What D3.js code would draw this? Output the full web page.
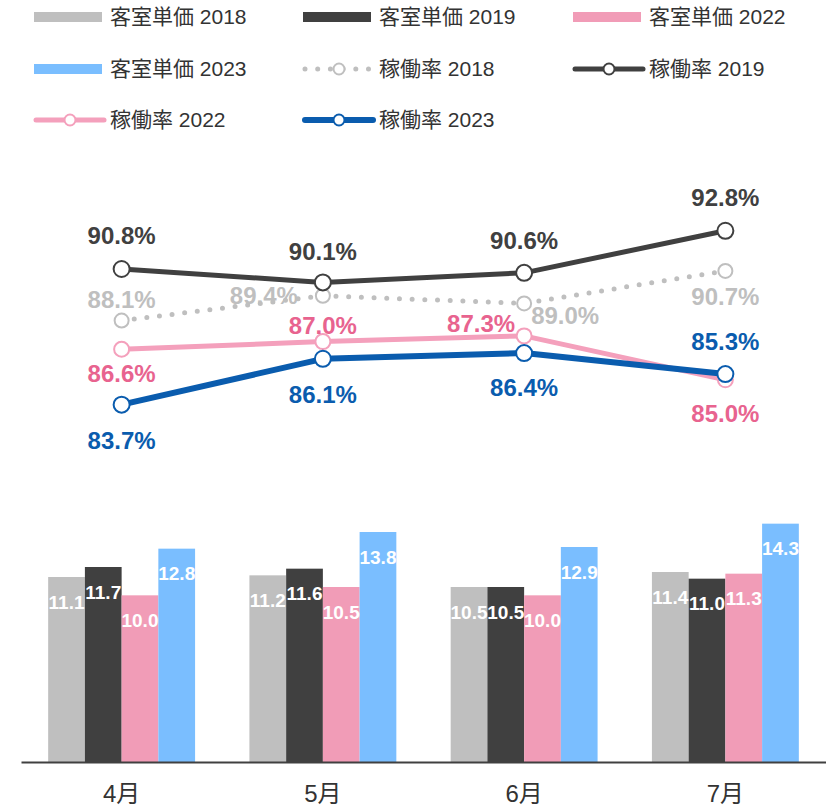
<!DOCTYPE html>
<html>
<head>
<meta charset="utf-8">
<script src="https://cdn.jsdelivr.net/npm/d3@7"></script>
<style>
  html, body { margin: 0; padding: 0; background: #fff; }
  svg { display: block; font-family: "Liberation Sans", Arial, "Noto Sans CJK JP", sans-serif; }
</style>
</head>
<body>
<svg id="chart" width="826" height="809"></svg>
<script>
// ---- data ----
const months = ["4月", "5月", "6月", "7月"];
const barSeriesNames = ["客室単価 2018", "客室単価 2019", "客室単価 2022", "客室単価 2023"];
const price2018 = [11.1, 11.2, 10.5, 11.4];
const price2019 = [11.7, 11.6, 10.5, 11.0];
const price2022 = [10.0, 10.5, 10.0, 11.3];
const price2023 = [12.8, 13.8, 12.9, 14.3];
const lineSeriesNames = ["稼働率 2018", "稼働率 2019", "稼働率 2022", "稼働率 2023"];
const occ2018 = [88.1, 89.4, 89.0, 90.7];
const occ2019 = [90.8, 90.1, 90.6, 92.8];
const occ2022 = [86.6, 87.0, 87.3, 85.0];
const occ2023 = [83.7, 86.1, 86.4, 85.3];

// ---- styles ----
const barColors = ["#BFBFBF", "#404040", "#F19CB7", "#7ABEFF"];
const lineStyles = [
  { stroke: "#BFBFBF", width: 5, dash: "0 12.7", r: 7, label: "#BFBFBF" },
  { stroke: "#404040", width: 5, dash: null, r: 8, label: "#404040" },
  { stroke: "#F4A0BC", width: 5, dash: null, r: 7.5, label: "#E8638F" },
  { stroke: "#0A5CAE", width: 6, dash: null, r: 8, label: "#0A5CAE" }
];
// label placement per line series: [dx, dy, anchor]
const labelLayout = [
  [[0, -21, "middle"], [-25, 0, "end"], [7, 12, "start"], [0, 26, "middle"]],
  [[0, -33, "middle"], [0, -31, "middle"], [0, -32, "middle"], [0, -33, "middle"]],
  [[0, 24, "middle"], [0, -16, "middle"], [-9, -12, "end"], [0, 34, "middle"]],
  [[0, 36, "middle"], [0, 36, "middle"], [0, 35, "middle"], [0, -33, "middle"]]
];

const barValues = [price2018, price2019, price2022, price2023];
const lineValues = [occ2018, occ2019, occ2022, occ2023];

const svg = d3.select("#chart");
const plotTop = 162, plotBottom = 762, plotLeft = 21, plotRight = 826;

const x = d3.scaleBand().domain(months).range([plotLeft, plotRight]).paddingInner(0.27).paddingOuter(0.135);
const xs = d3.scaleBand().domain(d3.range(4)).range([0, x.bandwidth()]);
const yBar = d3.scaleLinear().domain([0, 36]).range([plotBottom, plotTop]);
const yLine = d3.scaleLinear().domain([65, 96.4]).range([plotBottom, plotTop]);

// ---- bars ----
const barG = svg.append("g");
barValues.forEach((vals, si) => {
  const g = barG.append("g");
  g.selectAll("rect").data(vals).join("rect")
    .attr("x", (d, i) => x(months[i]) + xs(si))
    .attr("y", d => yBar(d))
    .attr("width", xs.bandwidth())
    .attr("height", d => yBar(0) - yBar(d))
    .attr("fill", barColors[si]);
});
barValues.forEach((vals, si) => {
  barG.append("g").selectAll("text").data(vals).join("text")
    .attr("x", (d, i) => x(months[i]) + xs(si) + xs.bandwidth() / 2)
    .attr("y", d => yBar(d) + 25)
    .attr("dy", "0.35em")
    .attr("text-anchor", "middle")
    .attr("font-size", 19)
    .attr("font-weight", "bold")
    .attr("fill", "#fff")
    .text(d => d.toFixed(1));
});

// ---- x axis ----
const xAxis = d3.axisBottom(x).tickSize(0).tickPadding(0);
const axG = svg.append("g").attr("transform", `translate(0,${plotBottom})`).call(xAxis);
axG.select(".domain").attr("stroke", "#404040").attr("stroke-width", 2);
axG.selectAll(".tick text")
  .attr("font-size", 24)
  .attr("fill", "#333")
  .attr("font-family", "\"Liberation Sans\", Arial, \"Noto Sans CJK JP\", sans-serif")
  .attr("y", 32)
  .attr("dy", "0.35em");

// ---- lines ----
const cx = m => x(m) + x.bandwidth() / 2;
const lineGen = d3.line().x((d, i) => cx(months[i])).y(d => yLine(d));
const lineG = svg.append("g");
lineValues.forEach((vals, si) => {
  const st = lineStyles[si];
  const g = lineG.append("g");
  g.append("path").datum(vals)
    .attr("d", lineGen)
    .attr("fill", "none")
    .attr("stroke", st.stroke)
    .attr("stroke-width", st.width)
    .attr("stroke-linecap", "round")
    .attr("stroke-linejoin", "round")
    .attr("stroke-dasharray", st.dash);
  g.selectAll("circle").data(vals).join("circle")
    .attr("cx", (d, i) => cx(months[i]))
    .attr("cy", d => yLine(d))
    .attr("r", st.r)
    .attr("fill", "#fff")
    .attr("stroke", st.stroke)
    .attr("stroke-width", 2);
});
lineValues.forEach((vals, si) => {
  const st = lineStyles[si];
  lineG.append("g").selectAll("text").data(vals).join("text")
    .attr("x", (d, i) => cx(months[i]) + labelLayout[si][i][0])
    .attr("y", (d, i) => yLine(d) + labelLayout[si][i][1])
    .attr("dy", "0.35em")
    .attr("text-anchor", (d, i) => labelLayout[si][i][2])
    .attr("font-size", 24)
    .attr("font-weight", "bold")
    .attr("fill", st.label)
    .text(d => d.toFixed(1) + "%");
});

// ---- legend ----
const legendItems = [
  ...barSeriesNames.map((n, i) => ({ name: n, type: "bar", idx: i })),
  ...lineSeriesNames.map((n, i) => ({ name: n, type: "line", idx: i }))
];
const colX = [34, 303, 573];
const rowY = [17, 69, 120];
const legG = svg.append("g");
legendItems.forEach((it, k) => {
  const gx = colX[k % 3], gy = rowY[Math.floor(k / 3)];
  const g = legG.append("g").attr("transform", `translate(${gx},${gy})`);
  if (it.type === "bar") {
    g.append("rect").attr("x", 0).attr("y", -5).attr("width", 68).attr("height", 10)
      .attr("fill", barColors[it.idx]);
  } else {
    const st = lineStyles[it.idx];
    g.append("line").attr("x1", 2).attr("x2", 70).attr("y1", 0).attr("y2", 0)
      .attr("stroke", st.stroke).attr("stroke-width", st.width)
      .attr("stroke-linecap", "round")
      .attr("stroke-dasharray", st.dash ? "0 12.7" : null);
    g.append("circle").attr("cx", 36).attr("cy", 0).attr("r", 5.5)
      .attr("fill", "#fff").attr("stroke", st.stroke).attr("stroke-width", 2);
  }
  g.append("text").attr("x", 76).attr("y", 0).attr("dy", "0.35em")
    .attr("font-size", 21).attr("fill", "#333").text(it.name);
});
</script>
</body>
</html>
